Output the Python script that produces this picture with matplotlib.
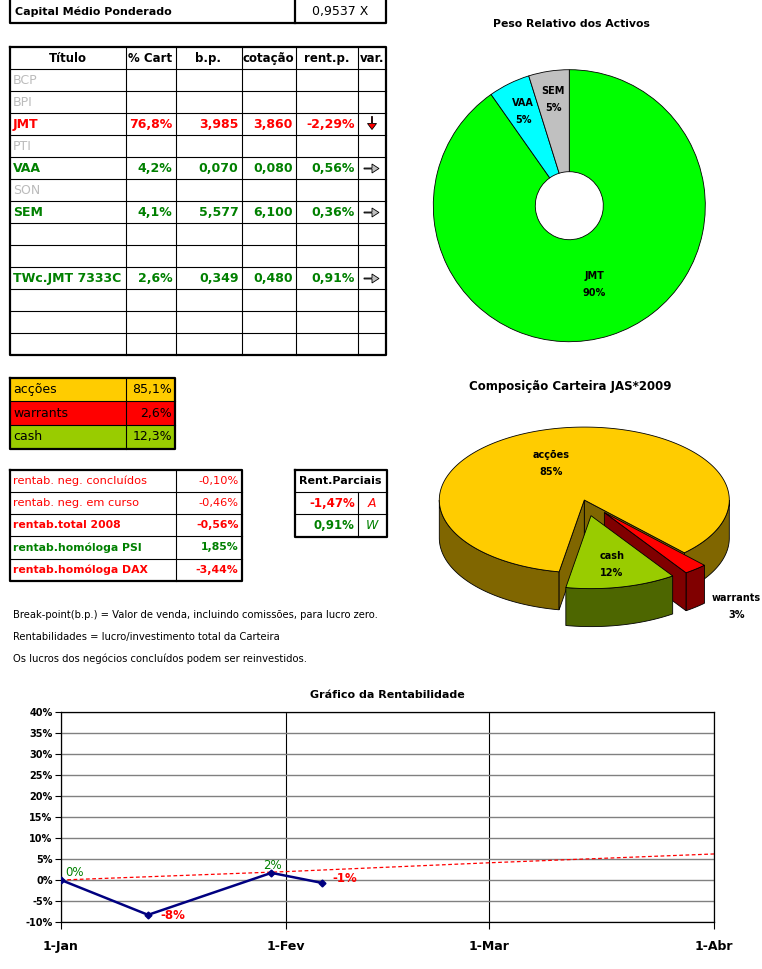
import numpy as np
import matplotlib
matplotlib.use('Agg')
import matplotlib.pyplot as plt
import matplotlib.patches as mpatches
import matplotlib.dates as mdates

plt.rcParams['font.family'] = ['DejaVu Sans']

# ---------------- data ----------------
capital_medio = 0.9537

headers = ['Título', '% Cart', 'b.p.', 'cotação', 'rent.p.', 'var.']
titulos = ['BCP', 'BPI', 'JMT', 'PTI', 'VAA', 'SON', 'SEM', '', '', 'TWc.JMT 7333C', '', '', '']
pct_cart = [None, None, 76.8, None, 4.2, None, 4.1, None, None, 2.6, None, None, None]
break_point = [None, None, 3.985, None, 0.070, None, 5.577, None, None, 0.349, None, None, None]
cotacao = [None, None, 3.860, None, 0.080, None, 6.100, None, None, 0.480, None, None, None]
rent_p = [None, None, -2.29, None, 0.56, None, 0.36, None, None, 0.91, None, None, None]
variacao = ['', '', 'down', '', 'right', '', 'right', '', '', 'right', '', '', '']

peso_labels = ['JMT', 'VAA', 'SEM']
peso_vals = [76.8, 4.2, 4.1]
peso_colors = ['#00FF00', '#00FFFF', '#C0C0C0']

comp_labels = ['acções', 'warrants', 'cash']
comp_vals = [85.1, 2.6, 12.3]
comp_colors = ['#FFCC00', '#FF0000', '#99CC00']
comp_sides = ['#806600', '#800000', '#4D6600']

rentab_labels = ['rentab. neg. concluídos', 'rentab. neg. em curso', 'rentab.total 2008',
                 'rentab.homóloga PSI', 'rentab.homóloga DAX']
rentab_vals = [-0.10, -0.46, -0.56, 1.85, -3.44]
rentab_bold = [False, False, True, True, True]

parciais_vals = [-1.47, 0.91]
parciais_tags = ['A', 'W']

notas = ['Break-point(b.p.) = Valor de venda, incluindo comissões, para lucro zero.',
         'Rentabilidades = lucro/investimento total da Carteira',
         'Os lucros dos negócios concluídos podem ser reinvestidos.']

graf_datas = np.array(['2009-01-01', '2009-01-13', '2009-01-30', '2009-02-06'], dtype='datetime64[D]')
graf_rent = [0.0, -8.3, 1.7, -0.7]
bench_datas = np.array(['2009-01-01', '2009-02-01', '2009-03-01', '2009-04-01'], dtype='datetime64[D]')
bench_rent = [0.0, 2.0, 4.1, 6.2]
mes_ticks = np.array(['2009-01-01', '2009-02-01', '2009-03-01', '2009-04-01'], dtype='datetime64[D]')
mes_labels = ['1-Jan', '1-Fev', '1-Mar', '1-Abr']

# ---------------- helpers ----------------
W, H = 762, 969
GREEN, RED, GRAY = '#008000', '#FF0000', '#BBBBBB'
THIN, THICK = 0.8, 1.6


def pt(v, nd):
    return f'{v:.{nd}f}'.replace('.', ',')


fig = plt.figure(figsize=(W / 100, H / 100), dpi=100)
ax0 = fig.add_axes([0, 0, 1, 1])
ax0.set_xlim(0, W)
ax0.set_ylim(H, 0)
ax0.axis('off')


def line(xs, ys, lw=THIN):
    ax0.plot(xs, ys, color='black', lw=lw, solid_capstyle='projecting')


def grid_box(cols, rows, lw_in=THIN):
    for x in cols[1:-1]:
        line([x, x], [rows[0], rows[-1]], lw_in)
    for y in rows[1:-1]:
        line([cols[0], cols[-1]], [y, y], lw_in)
    line([cols[0], cols[-1], cols[-1], cols[0], cols[0]],
         [rows[0], rows[0], rows[-1], rows[-1], rows[0]], THICK)


# capital medio
line([10, 10, 386, 386], [0, 22.5, 22.5, 0], THICK)
line([295, 295], [0, 22.5], THICK)
ax0.text(15, 11.5, 'Capital Médio Ponderado', fontsize=8, fontweight='bold', va='center')
ax0.text(340, 11.5, pt(capital_medio, 4) + ' X', fontsize=9, ha='center', va='center')

# main table
cols = [10, 125.5, 175.5, 241.5, 295.5, 358, 386]
rows = [47] + [69 + 22 * i for i in range(len(titulos) + 1)]
grid_box(cols, rows)
for j, h in enumerate(headers):
    ax0.text((cols[j] + cols[j + 1]) / 2, 58.5, h, fontsize=8.5, fontweight='bold',
             ha='center', va='center')
for i, nome in enumerate(titulos):
    yc = rows[i + 1] + 11.5
    if pct_cart[i] is None:
        ax0.text(13, yc, nome, fontsize=9, color=GRAY, va='center')
        continue
    c = RED if rent_p[i] < 0 else GREEN
    vals = [pt(pct_cart[i], 1) + '%', pt(break_point[i], 3), pt(cotacao[i], 3), pt(rent_p[i], 2) + '%']
    ax0.text(13, yc, nome, fontsize=9, color=c, fontweight='bold', va='center')
    for j, s in enumerate(vals):
        ax0.text(cols[j + 2] - 3, yc, s, fontsize=9, color=c, fontweight='bold', ha='right', va='center')
    xc = (cols[5] + cols[6]) / 2
    if variacao[i] == 'down':
        ax0.add_patch(mpatches.FancyArrow(xc, yc - 8, 0, 13, width=1, head_width=9, head_length=6,
                                          length_includes_head=True, fc=RED, ec='black', lw=0.6))
    elif variacao[i] == 'right':
        ax0.add_patch(mpatches.FancyArrow(xc - 8, yc, 15, 0, width=1, head_width=9, head_length=7,
                                          length_includes_head=True, fc='#C0C0C0', ec='black', lw=0.6))

# allocation table
acols = [10, 125.5, 175]
arows = [377.5 + 23.7 * i for i in range(4)]
for i, (lab, v, c) in enumerate(zip(comp_labels, comp_vals, comp_colors)):
    ax0.add_patch(mpatches.Rectangle((acols[0], arows[i]), acols[-1] - acols[0], arows[i + 1] - arows[i],
                                     fc=c, ec='none'))
    yc = (arows[i] + arows[i + 1]) / 2
    ax0.text(13, yc, lab, fontsize=9, va='center')
    ax0.text(acols[-1] - 3, yc, pt(v, 1) + '%', fontsize=9, ha='right', va='center')
grid_box(acols, arows)

# rentabilidades table
rcols = [10, 175.5, 241.5]
rrows = [469.5 + 22.25 * i for i in range(6)]
grid_box(rcols, rrows)
for i, (lab, v, b) in enumerate(zip(rentab_labels, rentab_vals, rentab_bold)):
    yc = (rrows[i] + rrows[i + 1]) / 2
    c = RED if v < 0 else GREEN
    fw = 'bold' if b else 'normal'
    fs = 7.8 if b else 8.2
    ax0.text(13, yc, lab, fontsize=fs, color=c, fontweight=fw, va='center')
    ax0.text(rcols[-1] - 3, yc, pt(v, 2) + '%', fontsize=fs, color=c, fontweight=fw, ha='right', va='center')

# rent. parciais
pcols = [295, 357.7, 386.5]
prows = [469.5, 492, 514.3, 536.5]
for y in prows[1:-1]:
    line([pcols[0], pcols[-1]], [y, y])
line([pcols[1], pcols[1]], [prows[1], prows[-1]])
line([pcols[0], pcols[-1], pcols[-1], pcols[0], pcols[0]], [prows[0], prows[0], prows[-1], prows[-1], prows[0]], THICK)
ax0.text((pcols[0] + pcols[-1]) / 2, (prows[0] + prows[1]) / 2, 'Rent.Parciais', fontsize=8,
         fontweight='bold', ha='center', va='center')
for i, (v, t) in enumerate(zip(parciais_vals, parciais_tags)):
    yc = (prows[i + 1] + prows[i + 2]) / 2
    c = RED if v < 0 else GREEN
    ax0.text(pcols[1] - 3, yc, pt(v, 2) + '%', fontsize=8.5, color=c, fontweight='bold', ha='right', va='center')
    ax0.text((pcols[1] + pcols[2]) / 2, yc, t, fontsize=9, color=c, style='italic', ha='center', va='center')

for i, n in enumerate(notas):
    ax0.text(13, 615 + 22 * i, n, fontsize=7.2, va='center')

# ---------------- donut ----------------
cxp, cyp, R = 569.3, 205.7, 136
ax1 = fig.add_axes([(cxp - 1.25 * R) / W, 1 - (cyp + 1.25 * R) / H, 2.5 * R / W, 2.5 * R / H])
wedges, _ = ax1.pie(peso_vals, colors=peso_colors, startangle=90, counterclock=False,
                    wedgeprops=dict(width=0.75, edgecolor='black', linewidth=0.6))
ax1.set_xlim(-1.25, 1.25)
ax1.set_ylim(-1.25, 1.25)
tot = sum(peso_vals)
for w, lab, v, r in zip(wedges, peso_labels, peso_vals, [0.61, 0.77, 0.79]):
    m = np.radians((w.theta1 + w.theta2) / 2)
    ax1.text(r * np.cos(m), r * np.sin(m), f'{lab}\n{v / tot * 100:.0f}%', fontsize=7,
             fontweight='bold', ha='center', va='center', linespacing=1.9)
fig.text(571.7 / W, 1 - 24 / H, 'Peso Relativo dos Activos', fontsize=7.8, fontweight='bold',
         ha='center', va='center')

# ---------------- 3D pie ----------------
px0, px1, py0, py1 = 424, 744, 420, 630
pc_x, pc_y, unit = 584.3, 500, 145
ax2 = fig.add_axes([px0 / W, 1 - py1 / H, (px1 - px0) / W, (py1 - py0) / H])
ax2.set_xlim((px0 - pc_x) / unit, (px1 - pc_x) / unit)
ax2.set_ylim((pc_y - py1) / unit, (pc_y - py0) / unit)
ax2.axis('off')

tilt, depth = 0.503, 0.262
explode = [0, 0.22, 0.22]
lab_r = [0.52, 1.45, 0.69]
ang = 260
tot = sum(comp_vals)
for v, top, side, ex, lab, lr in zip(comp_vals, comp_colors, comp_sides, explode, comp_labels, lab_r):
    t1 = ang
    t0 = ang - v / tot * 360
    ang = t0
    mid = np.radians((t0 + t1) / 2)
    cx, cy = ex * np.cos(mid), ex * np.sin(mid) * tilt
    # outer wall (front half only)
    for k in range(-2, 2):
        lo, hi = max(t0, 180 + 360 * k), min(t1, 360 + 360 * k)
        if lo < hi:
            s = np.radians(np.linspace(lo, hi, 120))
            xs = cx + np.cos(s)
            ys = cy + np.sin(s) * tilt
            ax2.fill(np.r_[xs, xs[::-1]], np.r_[ys, ys[::-1] - depth], fc=side, ec='black', lw=0.6)
    # radial walls facing the viewer
    for e, n in [(t0, t0 - 90), (t1, t1 + 90)]:
        if np.sin(np.radians(n)) < 0:
            ex_, ey_ = cx + np.cos(np.radians(e)), cy + np.sin(np.radians(e)) * tilt
            ax2.fill([cx, ex_, ex_, cx], [cy, ey_, ey_ - depth, cy - depth], fc=side, ec='black', lw=0.6)
    s = np.radians(np.linspace(t0, t1, 300))
    ax2.fill(np.r_[cx, cx + np.cos(s)], np.r_[cy, cy + np.sin(s) * tilt], fc=top, ec='black', lw=0.6)
    ly = cy + lr * np.sin(mid) * tilt - (depth * 0.3 if lr > 1 else 0)
    lx = cx + lr * np.cos(mid) - (0.08 if lr < 0.6 else 0)
    ax2.text(lx, ly, f'{lab}\n{v / tot * 100:.0f}%', fontsize=7, fontweight='bold',
             ha='center', va='center', linespacing=1.9)
fig.text(570 / W, 1 - 386.7 / H, 'Composição Carteira JAS*2009', fontsize=8.5, fontweight='bold',
         ha='center', va='center')

# ---------------- line chart ----------------
ax3 = fig.add_axes([61 / W, 1 - 922 / H, (714 - 61) / W, (922 - 712) / H])
ax3.plot(mdates.date2num(bench_datas), bench_rent, color='red', lw=0.9, ls=(0, (3, 2)), zorder=2)
gx = mdates.date2num(graf_datas)
ax3.plot(gx, graf_rent, color='#000080', lw=1.8, marker='D', ms=3.5, zorder=3)
offs = [(4, 8, 'left'), (12, -1, 'left'), (1, 7, 'center'), (10, 4, 'left')]
for x, v, (dx, dy, ha) in zip(gx, graf_rent, offs):
    neg = round(v) < 0
    ax3.annotate(f'{v:.0f}%', (x, v), xytext=(dx, dy), textcoords='offset pixels',
                 color=RED if neg else GREEN, fontsize=8.5, fontweight='bold' if neg else 'normal',
                 ha=ha, va='center', zorder=4)
xt = mdates.date2num(mes_ticks)
ax3.set_xlim(xt[0], xt[-1])
ax3.set_ylim(-10, 40)
ax3.set_xticks(xt)
ax3.set_xticklabels(mes_labels, fontsize=9, fontweight='bold')
yt = list(range(-10, 41, 5))
ax3.set_yticks(yt)
ax3.set_yticklabels([f'{t}%' for t in yt], fontsize=7, fontweight='bold')
ax3.grid(axis='y', color='#808080', lw=1)
ax3.grid(axis='x', color='black', lw=0.8)
ax3.set_axisbelow(True)
for sp in ax3.spines.values():
    sp.set_color('black')
    sp.set_linewidth(0.9)
ax3.tick_params(axis='x', length=5, width=0.8, pad=8)
ax3.tick_params(axis='y', length=4, width=0.8, pad=2)
ax3.set_title('Gráfico da Rentabilidade', fontsize=8, fontweight='bold', pad=10)

fig.savefig('out.png', dpi=100)
